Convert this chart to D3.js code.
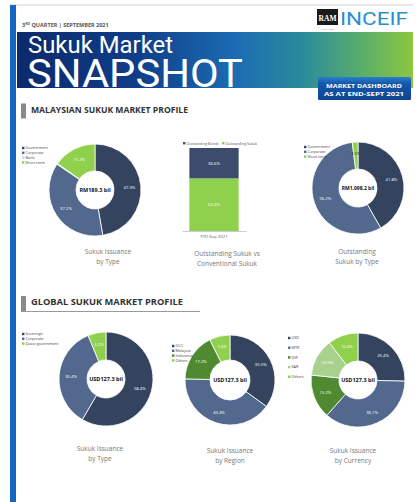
<!DOCTYPE html>
<html><head><meta charset="utf-8">
<script src="https://cdn.jsdelivr.net/npm/d3@7"></script>
<style>html,body{margin:0;padding:0;background:#fff;overflow:hidden}svg{display:block}</style>
</head><body>
<svg id="c" width="419" height="502"></svg>
<script>
// ---- data ----
const malTypeCats = ["Government", "Corporate", "Bank", "Short-term"];
const malTypeVals = [47.3, 37.2, 0.3, 15.2];
const malTypeTotal = "RM189.3 bil";

const barCats = ["YTD Sep 2021"];
const barSeries = ["Outstanding Bonds", "Outstanding Sukuk"];
const bondsVals = [36.6];
const sukukVals = [63.4];

const outTypeCats = ["Government", "Corporate", "Short-term"];
const outTypeVals = [41.8, 56.2, 2.0];
const outTypeTotal = "RM1,098.2 bil";

const gloTypeCats = ["Sovereign", "Corporate", "Quasi government"];
const gloTypeVals = [58.4, 35.4, 6.2];
const regionCats = ["GCC", "Malaysia", "Indonesia", "Others"];
const regionVals = [35.0, 40.4, 17.2, 7.4];
const currencyCats = ["USD", "MYR", "IDR", "SAR", "Others"];
const currencyVals = [25.4, 36.1, 15.2, 12.9, 10.4];
const globalTotal = "USD127.3 bil";

// ---- style ----
const NAVY = "#34445f", BLUE = "#52698d", LIME = "#8fd04c", DKGREEN = "#4f8a31", PALE = "#a9d18e", LIGHT = "#c9d3e0";
const svg = d3.select("#c");
const FONT = "'Open Sans', 'DejaVu Sans', sans-serif";

// top line + left stripe
svg.append("line").attr("x1", 10).attr("x2", 413).attr("y1", 5).attr("y2", 5).attr("stroke", "#d0d0d0").attr("stroke-width", 1);
svg.append("rect").attr("x", 10).attr("y", 5).attr("width", 6).attr("height", 497).attr("fill", "#1565c0");

// header text
const ht = svg.append("text").attr("x", 22).attr("y", 27).attr("font-family", FONT).attr("font-size", 5.5).attr("font-weight", "bold")
  .attr("fill", "#555");
ht.append("tspan").text("3");
ht.append("tspan").attr("font-size", 3.5).attr("dy", -2).text("RD");
ht.append("tspan").attr("dy", 2).text(" QUARTER | SEPTEMBER 2021");

// logo
svg.append("rect").attr("x", 317).attr("y", 9).attr("width", 21).attr("height", 16).attr("fill", "#1a1a1a");
svg.append("text").attr("x", 327.5).attr("y", 21).attr("text-anchor", "middle").attr("font-family", "'Liberation Serif', serif")
  .attr("font-weight", "bold").attr("font-size", 9).attr("fill", "#fff").attr("textLength", 18).attr("lengthAdjust", "spacingAndGlyphs").text("RAM");
svg.append("text").attr("x", 327.5).attr("y", 30).attr("text-anchor", "middle").attr("font-family", FONT)
  .attr("font-size", 2.5).attr("fill", "#777").text("THE WAGE");
svg.append("text").attr("x", 340).attr("y", 25).attr("font-family", "Roboto, sans-serif").attr("font-size", 18)
  .attr("fill", "#2b8fd0").attr("textLength", 68).attr("lengthAdjust", "spacingAndGlyphs").text("INCEIF");

// banner
const defs = svg.append("defs");
const grad = defs.append("linearGradient").attr("id", "bg").attr("x1", "0%").attr("x2", "100%");
[["0%", "#0c2a6a"], ["30%", "#0f3d88"], ["55%", "#1b6cb3"], ["72%", "#2a8a9c"], ["87%", "#5aae6a"], ["100%", "#8dc63f"]]
  .forEach(([o, c]) => grad.append("stop").attr("offset", o).attr("stop-color", c));
svg.append("rect").attr("x", 17).attr("y", 32).attr("width", 396).attr("height", 56).attr("fill", "url(#bg)");
svg.append("text").attr("x", 28).attr("y", 53).attr("font-family", "Roboto, sans-serif").attr("font-size", 23)
  .attr("fill", "#fff").attr("textLength", 145).attr("lengthAdjust", "spacingAndGlyphs").text("Sukuk Market");
svg.append("text").attr("x", 27).attr("y", 87).attr("font-family", "Roboto, sans-serif").attr("font-size", 39)
  .attr("fill", "#fff").attr("textLength", 216).attr("lengthAdjust", "spacingAndGlyphs").text("SNAPSHOT");

// dashboard box
const dg = defs.append("linearGradient").attr("id", "db").attr("x1", "0%").attr("x2", "0%").attr("y1", "0%").attr("y2", "100%");
dg.append("stop").attr("offset", "0%").attr("stop-color", "#2a7fd0");
dg.append("stop").attr("offset", "30%").attr("stop-color", "#1456a8");
dg.append("stop").attr("offset", "100%").attr("stop-color", "#0e4494");
svg.append("rect").attr("x", 318).attr("y", 77).attr("width", 93).attr("height", 23).attr("rx", 1.5).attr("fill", "url(#db)");
svg.append("text").attr("x", 364).attr("y", 87.5).attr("text-anchor", "middle").attr("font-family", FONT).attr("font-weight", "bold")
  .attr("font-size", 6).attr("fill", "#fff").attr("textLength", 76).attr("lengthAdjust", "spacingAndGlyphs").text("MARKET DASHBOARD");
svg.append("text").attr("x", 364).attr("y", 95.5).attr("text-anchor", "middle").attr("font-family", FONT).attr("font-weight", "bold")
  .attr("font-size", 6).attr("fill", "#fff").attr("textLength", 80).attr("lengthAdjust", "spacingAndGlyphs").text("AS AT END-SEPT 2021");

// section headers
function section(y, text, w, underline) {
  svg.append("rect").attr("x", 21).attr("y", y - 9).attr("width", 5).attr("height", 15).attr("fill", "#8a8a8a");
  svg.append("text").attr("x", 31).attr("y", y).attr("font-family", FONT).attr("font-weight", "bold")
    .attr("font-size", 8.5).attr("fill", "#333").attr("textLength", w).attr("lengthAdjust", "spacingAndGlyphs").text(text);
  if (underline) svg.append("line").attr("x1", 21).attr("x2", underline).attr("y1", y + 6.5).attr("y2", y + 6.5)
    .attr("stroke", "#9a9a9a").attr("stroke-width", 1);
}
section(112.5, "MALAYSIAN SUKUK MARKET PROFILE", 157, null);
section(305, "GLOBAL SUKUK MARKET PROFILE", 152, 200);

function caption(cx, y, lines) {
  lines.forEach((l, i) => svg.append("text").attr("x", cx).attr("y", y + i * 10).attr("text-anchor", "middle")
    .attr("font-family", FONT).attr("font-size", 6.5).attr("fill", "#777").text(l));
}

function legend(x, y, cats, colors, dy) {
  cats.forEach((c, i) => {
    svg.append("rect").attr("x", x).attr("y", y + i * dy - 2.2).attr("width", 2.4).attr("height", 2.4).attr("fill", colors[i]);
    svg.append("text").attr("x", x + 3.5).attr("y", y + i * dy + 0.3).attr("font-family", FONT).attr("font-size", 3.8)
      .attr("fill", "#444").text(c);
  });
}

function donut(cx, cy, cats, vals, colors, total, rO, rI, cfs) {
  const g = svg.append("g").attr("transform", `translate(${cx},${cy})`);
  const pie = d3.pie().sort(null).value(d => d.v)(cats.map((c, i) => ({ c, v: vals[i] })));
  const arc = d3.arc().innerRadius(rI).outerRadius(rO);
  g.selectAll("path").data(pie).join("path").attr("d", arc).attr("fill", (d, i) => colors[i])
    .attr("stroke", "#fff").attr("stroke-width", 0.8);
  const lr = (rI + rO) / 2 + 2;
  const la = d3.arc().innerRadius(lr).outerRadius(lr);
  g.selectAll("text.l").data(pie.filter(d => d.data.v >= 1.5)).join("text").attr("class", "l")
    .attr("transform", d => `translate(${la.centroid(d)})`).attr("text-anchor", "middle").attr("dy", "0.35em")
    .attr("font-family", FONT).attr("font-size", 4.2).attr("fill", d => d.data.v < 3 ? "#333" : "#fff")
    .text(d => d.data.v.toFixed(1) + "%");
  g.append("text").attr("text-anchor", "middle").attr("dy", "0.35em").attr("font-family", FONT).attr("font-weight", "bold")
    .attr("font-size", cfs || 5.5).attr("fill", "#111").text(total);
}

// chart 1
const c1Colors = [NAVY, BLUE, LIGHT, LIME];
donut(95, 190, malTypeCats, malTypeVals, c1Colors, malTypeTotal, 46, 19);
legend(22, 149, malTypeCats, c1Colors, 4.8);
caption(108, 254, ["Sukuk Issuance", "by Type"]);

// chart 2 stacked bar
const x = d3.scaleBand().domain(barCats).range([182, 246]).paddingInner(0.2).paddingOuter(0.12);
const y = d3.scaleLinear().domain([0, 100]).range([231, 148]);
const stackData = barCats.map((c, i) => ({ cat: c, sukuk: sukukVals[i], bonds: bondsVals[i] }));
const stacks = d3.stack().keys(["sukuk", "bonds"])(stackData);
const barColors = { sukuk: LIME, bonds: "#3c4c6c" };
stacks.forEach(s => {
  svg.selectAll(null).data(s).join("rect").attr("x", d => x(d.data.cat)).attr("width", x.bandwidth())
    .attr("y", d => y(d[1])).attr("height", d => y(d[0]) - y(d[1])).attr("fill", barColors[s.key]);
  svg.selectAll(null).data(s).join("text").attr("x", d => x(d.data.cat) + x.bandwidth() / 2)
    .attr("y", d => (y(d[0]) + y(d[1])) / 2 + 1.5).attr("text-anchor", "middle").attr("font-family", FONT)
    .attr("font-size", 4.3).attr("fill", "#fff").text(d => d.data[s.key].toFixed(1) + "%");
});
const xAxis = svg.append("g").attr("transform", "translate(0,231)").call(d3.axisBottom(x).tickSize(0).tickPadding(4));
xAxis.select(".domain").attr("stroke", "#ccc");
xAxis.selectAll("text").attr("font-family", FONT).attr("font-size", 4.3).attr("fill", "#555");
// bar legend
const blColors = ["#3c4c6c", LIME];
barSeries.forEach((s, i) => {
  const lx = 183 + i * 39;
  svg.append("rect").attr("x", lx).attr("y", 142).attr("width", 2.4).attr("height", 2.4).attr("fill", blColors[i]);
  svg.append("text").attr("x", lx + 3.4).attr("y", 144.5).attr("font-family", FONT).attr("font-size", 3.6).attr("fill", "#555").text(s);
});
caption(227, 256, ["Outstanding Sukuk vs", "Conventional Sukuk"]);

// chart 3
const c3Colors = [NAVY, BLUE, LIME];
donut(358, 188, outTypeCats, outTypeVals, c3Colors, outTypeTotal, 46, 19, 5);
legend(304, 148, outTypeCats, c3Colors, 4.8);
caption(357, 254, ["Outstanding", "Sukuk by Type"]);

// chart 4
const c4Colors = [NAVY, BLUE, LIME];
donut(106, 379, gloTypeCats, gloTypeVals, c4Colors, globalTotal, 47, 19);
legend(22, 335, gloTypeCats, c4Colors, 4.8);
caption(100, 451, ["Sukuk Issuance", "by Type"]);

// chart 5
const c5Colors = [NAVY, BLUE, DKGREEN, LIME];
donut(230, 380, regionCats, regionVals, c5Colors, globalTotal, 45, 20);
legend(172, 347, regionCats, c5Colors, 4.8);
caption(230, 453, ["Sukuk Issuance", "by Region"]);

// chart 6
const c6Colors = [NAVY, BLUE, DKGREEN, PALE, LIME];
donut(358, 380, currencyCats, currencyVals, c6Colors, globalTotal, 47, 19);
legend(288, 339, currencyCats, c6Colors, 9.7);
caption(353, 453, ["Sukuk Issuance", "by Currency"]);
</script>
</body></html>
